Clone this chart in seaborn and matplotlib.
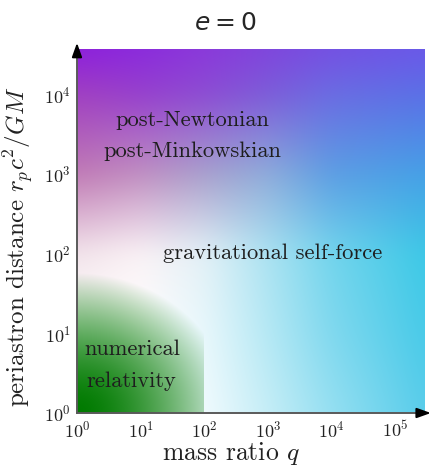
import numpy as np
import matplotlib
matplotlib.use("Agg")
import matplotlib.pyplot as plt
import seaborn as sns

# ---- data -------------------------------------------------------------
x_decades = 5.47          # log10 of right edge of mass-ratio axis
y_decades = 4.57          # log10 of top edge of periastron axis
x_ticks = [1e0, 1e1, 1e2, 1e3, 1e4, 1e5]
y_ticks = [1e0, 1e1, 1e2, 1e3, 1e4]

# colour knots of the background shading (log10 q  x  log10 r)
knot_logq = [0.0, 1.0, 2.0, 3.0, 4.0, 5.47]
knot_logr = [0.0, 1.0, 2.0, 3.0, 4.0, 4.57]
knot_rows = [
    ["#ffffff", "#ffffff", "#f0fafd", "#c5edf6", "#95dff1", "#58ccea"],  # r=1e0
    ["#ffffff", "#ffffff", "#e8f7fb", "#b5e8f4", "#80d8ee", "#48cae8"],  # r=1e1
    ["#f2e4ea", "#faf2f5", "#e2f0f6", "#abe2f1", "#72d4ec", "#3cc8e6"],  # r=1e2
    ["#c07ab4", "#c08ec0", "#a8a0cc", "#8eacda", "#5c9ee3", "#45a0e6"],  # r=1e3
    ["#a040c0", "#9640cc", "#8c4cd2", "#7c5cd8", "#6a6ce2", "#5a70e6"],  # r=1e4
    ["#8c1edc", "#8a2adc", "#8a38da", "#7f45dc", "#7450e2", "#6a58e8"],  # top
]

# numerical-relativity region (green radial patch)
nr_color = "#007a00"
nr_qmax = 1e2

labels = [("post-Newtonian", 64, 4700),
          ("post-Minkowskian", 66, 1920),
          ("gravitational self-force", 1180, 100),
          ("numerical", 7.3, 6.4),
          ("relativity", 7.2, 2.5)]

# ---- style ------------------------------------------------------------
sns.set_theme(style="white")
plt.rcParams["font.family"] = ["cmr10", "DejaVu Serif"]
plt.rcParams["mathtext.fontset"] = "cm"
plt.rcParams["axes.formatter.use_mathtext"] = True

fig = plt.figure(figsize=(4.29, 4.68), dpi=100)
ax = fig.add_axes([77 / 429, 55 / 468, 348 / 429, 364 / 468])

# ---- colour field -----------------------------------------------------
nx, ny = 348, 364
lx_e = np.linspace(0, x_decades, nx + 1)
ly_e = np.linspace(0, y_decades, ny + 1)
lx = 0.5 * (lx_e[1:] + lx_e[:-1])
ly = 0.5 * (ly_e[1:] + ly_e[:-1])
LX, LY = np.meshgrid(lx, ly)

knots = np.array([[matplotlib.colors.to_rgb(c) for c in row] for row in knot_rows])
# bilinear interpolation on the knot grid
tmp = np.empty((len(knot_logr), nx, 3))
for j in range(len(knot_logr)):
    for k in range(3):
        tmp[j, :, k] = np.interp(lx, knot_logq, knots[j, :, k])
rgb = np.empty((ny, nx, 3))
for i in range(nx):
    for k in range(3):
        rgb[:, i, k] = np.interp(ly, knot_logr, tmp[:, i, k])


def blur(img, sigma):
    r = int(3 * sigma)
    t = np.arange(-r, r + 1)
    ker = np.exp(-0.5 * (t / sigma) ** 2)
    ker /= ker.sum()
    out = img.copy()
    for axis in (0, 1):
        pad = [(0, 0)] * 3
        pad[axis] = (r, r)
        p = np.pad(out, pad, mode="edge")
        out = np.apply_along_axis(lambda v: np.convolve(v, ker, mode="valid"), axis, p)
    return out


rgb = blur(rgb, 11)

# green radial overlay (pixel-like distances)
sx, sy = nx / x_decades, ny / y_decades
d = np.sqrt((LX * sx / 155.0) ** 2 + (LY * sy / 140.0) ** 2)
alpha = 1 - np.clip(d, 0, 1) ** 1.7
alpha[LX > np.log10(nr_qmax)] = 0
g = np.array(matplotlib.colors.to_rgb(nr_color))
rgb = rgb * (1 - alpha[..., None]) + g * alpha[..., None]
rgb = np.clip(rgb, 0, 1)

ax.pcolormesh(10 ** lx_e, 10 ** ly_e, rgb, shading="flat", rasterized=True)
ax.set_xscale("log")
ax.set_yscale("log")
ax.set_xlim(1, 10 ** x_decades)
ax.set_ylim(1, 10 ** y_decades)
ax.set_xticks(x_ticks)
ax.set_yticks(y_ticks)
ax.minorticks_off()

sns.despine(ax=ax)
for s in ["left", "bottom"]:
    ax.spines[s].set_color("#5a5a5a")
    ax.spines[s].set_linewidth(1.4)
ax.tick_params(axis="both", which="major", direction="inout", length=7,
               width=1.2, color="#5a5a5a", labelsize=13, labelcolor="#222222",
               pad=1)

# axis arrows
for xy, xyt in [((1.017, 0), (0.98, 0)), ((0, 1.017), (0, 0.98))]:
    ax.annotate("", xy=xy, xytext=xyt, xycoords="axes fraction",
                arrowprops=dict(arrowstyle="-|>,head_length=0.7,head_width=0.25",
                                color="black", lw=1.4, shrinkA=0, shrinkB=0),
                annotation_clip=False)

for txt, xq, yr in labels:
    ax.text(xq, yr, txt, ha="center", va="center", fontsize=16.2,
            color="#1e1e1e")

ax.set_xlabel("mass ratio $q$", fontsize=18.5, color="#222222")
ax.xaxis.set_label_coords((231 - 77) / 348, -0.075)
ax.set_ylabel("periastron distance $r_pc^2/GM$", fontsize=18,
              color="#222222")
ax.yaxis.set_label_coords((36 - 77) / 348, (413 - 247) / 364)
ax.set_title("$e = 0$", fontsize=18, math_fontfamily="dejavusans",
             x=(225 - 77) / 348, pad=14)

fig.savefig("out.png", dpi=100)
